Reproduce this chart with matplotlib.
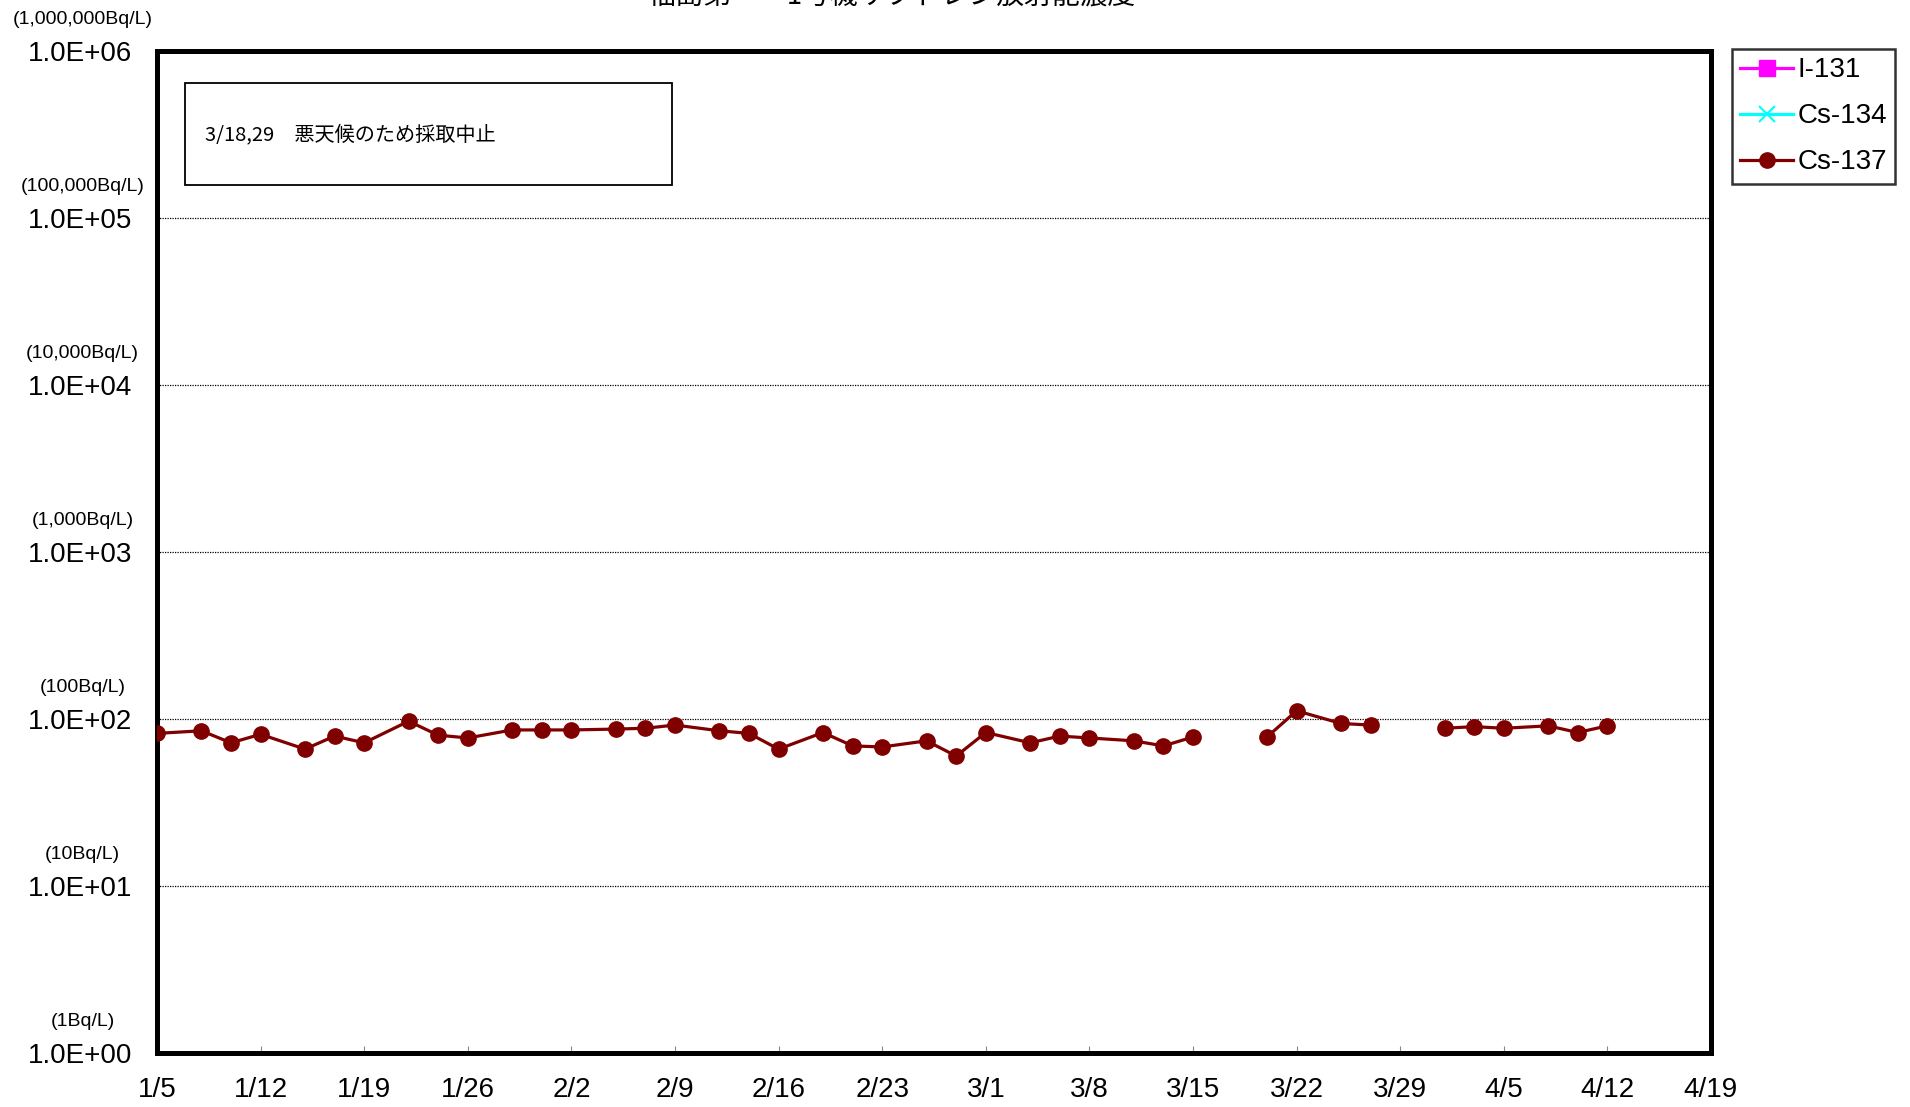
import numpy as np
import pandas as pd
import matplotlib
matplotlib.use("Agg")
import matplotlib.pyplot as plt
import matplotlib.dates as mdates
from matplotlib.patches import Rectangle
from matplotlib.ticker import FuncFormatter, FixedLocator
from matplotlib.transforms import offset_copy

plt.rcParams['font.family'] = ['Liberation Sans', 'Noto Sans CJK JP', 'DejaVu Sans']

# sampling dates and Cs-137 concentration (Bq/L); 3/18 and 3/29 not sampled
dates = ["1/5", "1/8", "1/10", "1/12", "1/15", "1/17", "1/19", "1/22", "1/24", "1/26",
         "1/29", "1/31", "2/2", "2/5", "2/7", "2/9", "2/12", "2/14", "2/16", "2/19",
         "2/21", "2/23", "2/26", "2/28", "3/1", "3/4", "3/6", "3/8", "3/11", "3/13",
         "3/15", "3/18", "3/20", "3/22", "3/25", "3/27", "3/29", "4/1", "4/3", "4/5",
         "4/8", "4/10", "4/12"]
cs137 = [82, 85, 72, 81, 66, 79, 72, 97, 80, 77,
         86, 86, 86, 87, 88, 92, 85, 82, 66, 83,
         69, 68, 74, 60, 83, 72, 79, 77, 74, 69,
         78, np.nan, 78, 112, 94, 92, np.nan, 88, 90, 88,
         91, 83, 91]
# I-131 and Cs-134 below detection limit over the whole period
i131 = []
cs134 = []

decades = [1e0, 1e1, 1e2, 1e3, 1e4, 1e5, 1e6]
unit_labels = ["(1Bq/L)", "(10Bq/L)", "(100Bq/L)", "(1,000Bq/L)",
               "(10,000Bq/L)", "(100,000Bq/L)", "(1,000,000Bq/L)"]

x = pd.to_datetime(["2016/" + d for d in dates])

fig = plt.figure(figsize=(19.1, 11.07), dpi=100)
ax = fig.add_axes([0.0822, 0.0488, 0.8136, 0.9051])

h3, = ax.plot(x, cs137, color="#800000", lw=2.3, marker="o", ms=11, label="Cs-137", zorder=3)
h1, = ax.plot(i131, i131, color="#FF00FF", marker="s", ms=11, lw=2.3, label="I-131")
h2, = ax.plot(cs134, cs134, color="#00FFFF", marker="x", ms=11, mew=1.5, lw=2.3, label="Cs-134")

# log y axis with Excel style labels
ax.set_yscale("log")
ax.set_ylim(1, 1e6)
ax.yaxis.set_major_locator(FixedLocator(decades))
ax.yaxis.set_minor_locator(FixedLocator([]))
ax.yaxis.set_major_formatter(FuncFormatter(lambda v, p: "1.0E+%02d" % int(round(np.log10(v)))))
ax.tick_params(axis="y", length=0, pad=18, labelsize=20)

# unit labels sit just above each decade label
unit_tr = offset_copy(ax.get_yaxis_transform(), fig=fig, y=22.5, units="points")
for v, u in zip(decades, unit_labels):
    ax.text(-0.048, v, u, transform=unit_tr, ha="center", va="center",
            fontsize=14, clip_on=False)

x0 = pd.Timestamp("2016-01-05")
x1 = pd.Timestamp("2016-04-19")
ax.set_xlim(x0, x1)
ax.xaxis.set_major_locator(FixedLocator(mdates.date2num(pd.date_range(x0, x1, freq="7D"))))
ax.xaxis.set_major_formatter(FuncFormatter(
    lambda v, p: "%d/%d" % (mdates.num2date(v).month, mdates.num2date(v).day)))
ax.tick_params(axis="x", direction="in", length=5, width=0.8, color="#888888",
               pad=17, labelsize=20)

ax.grid(axis="y", which="major", color="black", linestyle=(0, (1, 1)), lw=0.9)
for s in ax.spines.values():
    s.set_linewidth(3.6)
    s.set_color("black")

# note box
ax.add_patch(Rectangle((0.018, 0.8663), 0.3134, 0.1017, transform=ax.transAxes,
                       fill=False, ec="black", lw=1.3, zorder=5))
ax.text(0.031, 0.916, "3/18,29\u3000悪天候のため採取中止", transform=ax.transAxes,
        ha="left", va="center", fontsize=14.5, family=["Noto Sans CJK JP"])

fig.text(0.467, 1.003, "福島第一\u30001号機サブドレン放射能濃度", ha="center", va="center",
         fontsize=20, family=["Noto Sans CJK JP"])

leg = fig.legend(handles=[h1, h2, h3], loc="upper left", bbox_to_anchor=(0.9068, 0.9557),
                 borderaxespad=0, fontsize=20, frameon=True, fancybox=False,
                 handlelength=1.9, handletextpad=0.15, labelspacing=0.72, borderpad=0.3)
leg.get_frame().set_edgecolor("black")
leg.get_frame().set_linewidth(1.8)

fig.savefig("out.png", dpi=100, facecolor="white")
